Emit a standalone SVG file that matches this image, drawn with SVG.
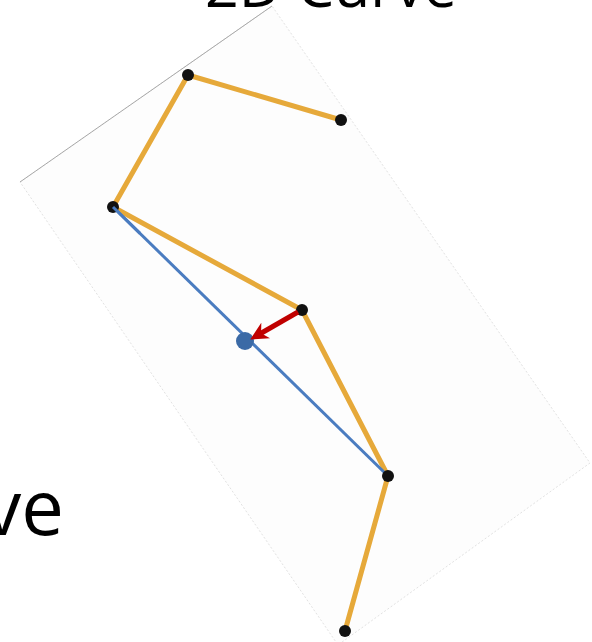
<svg xmlns="http://www.w3.org/2000/svg" width="592" height="642" viewBox="0 0 592 642">
<defs>
<style>
.lbl{font-family:"Open Sans","Noto Sans","Liberation Sans",sans-serif;fill:#000}
.pt{fill:#111}
.curve{fill:none;stroke:#E6A93A;stroke-width:5;stroke-linejoin:round;stroke-linecap:round}
</style>
<marker id="ah" viewBox="0 0 10 10" refX="5" refY="5" markerWidth="3.6" markerHeight="3.6" orient="auto" markerUnits="strokeWidth">
<path d="M0,0 L10,5 L0,10 L3,5 z" fill="#C00000"/>
</marker>
</defs>
<rect width="592" height="642" fill="#fff"/>
<g id="plane">
<polygon points="20,182 272,6 590,463 338,645" fill="#fdfdfd" stroke="#e2e2e2" stroke-width="1" stroke-dasharray="2,2"/>
<line x1="20" y1="182" x2="272" y2="6" stroke="#a8a8a8" stroke-width="1"/>
</g>
<text class="lbl" x="205" y="7" font-size="60" textLength="252" lengthAdjust="spacingAndGlyphs">2D Curve</text>
<text class="lbl" x="64" y="535" font-size="76" text-anchor="end">ve</text>
<g id="connectors">
<polyline class="curve" points="341,120 188,75 113,207 302,310 388,476 345,631"/>
<line x1="113" y1="207" x2="388" y2="476" stroke="#4A7CC0" stroke-width="3"/>
</g>
<g id="p1"><circle class="pt" cx="188" cy="75" r="6"/></g>
<g id="p2"><circle class="pt" cx="341" cy="120" r="6"/></g>
<g id="p0"><circle class="pt" cx="113" cy="207" r="6"/></g>
<g id="p3"><circle class="pt" cx="302" cy="310" r="6"/></g>
<g id="p4"><circle class="pt" cx="388" cy="476" r="6"/></g>
<g id="p5"><circle class="pt" cx="345" cy="631" r="6"/></g>
<line x1="113" y1="207" x2="140" y2="233.4" stroke="#4A7CC0" stroke-width="3"/>
<g id="proj"><circle cx="245" cy="341" r="9" fill="#3B6AA6"/></g>
<g id="arrow"><line x1="298" y1="312" x2="258" y2="335" stroke="#C00000" stroke-width="5" marker-end="url(#ah)"/></g>
</svg>
